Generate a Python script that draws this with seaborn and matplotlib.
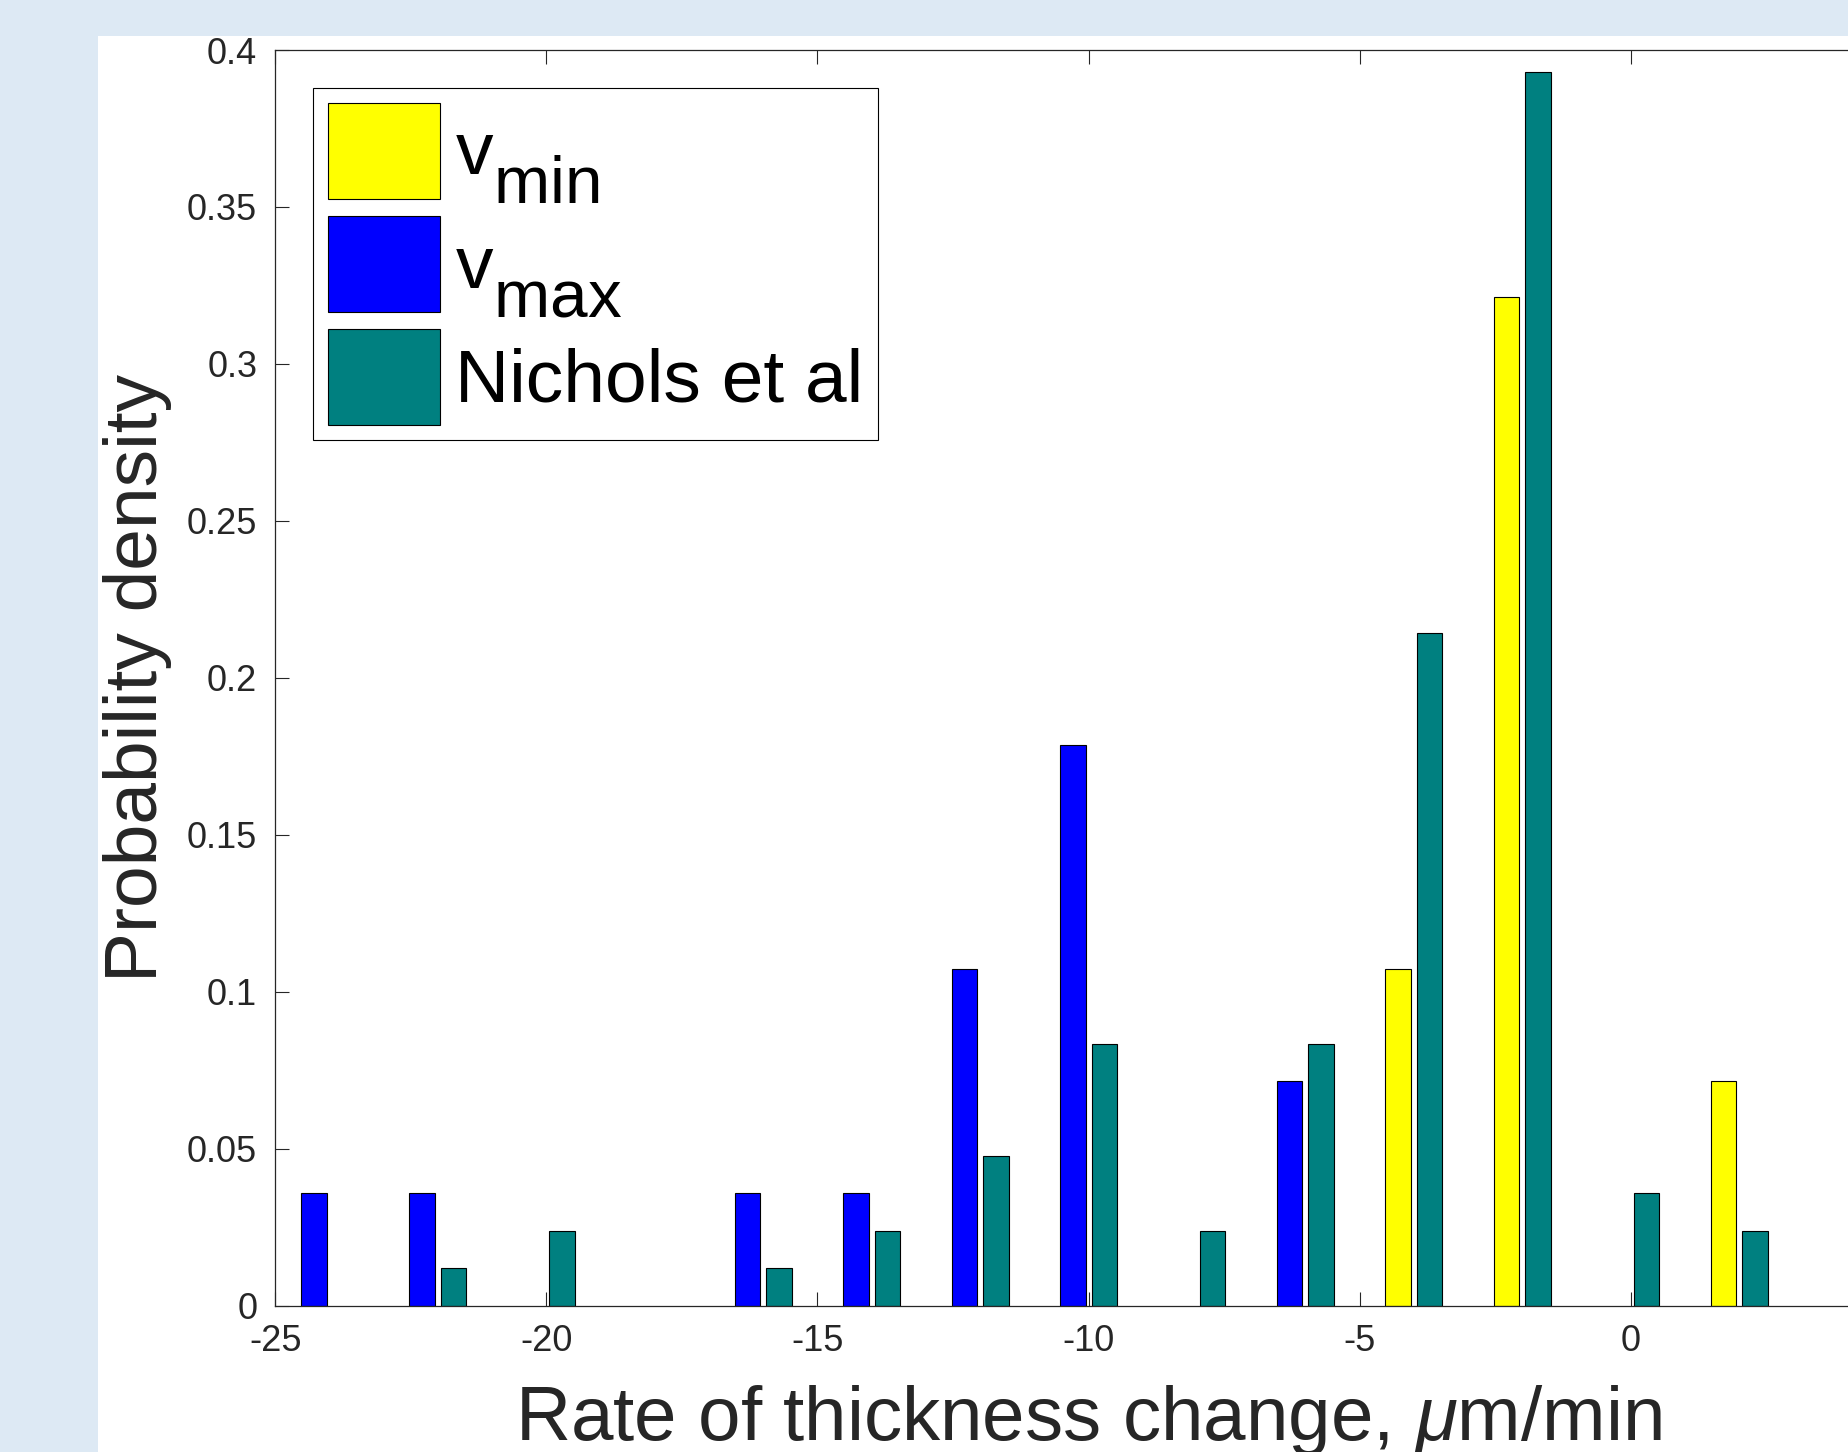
import numpy as np
import matplotlib
matplotlib.use("Agg")
import matplotlib.pyplot as plt
import seaborn as sns
from matplotlib.patches import Rectangle

# ---------------- data ----------------
vmin_centers = [-4, -2, 2]
vmin_density = [0.1071, 0.3214, 0.0714]

vmax_centers = [-24, -22, -16, -14, -12, -10, -6]
vmax_density = [0.0357, 0.0357, 0.0357, 0.0357, 0.1071, 0.1786, 0.0714]

nichols_centers = [-22, -20, -16, -14, -12, -10, -8, -6, -4, -2, 0, 2]
nichols_density = [0.0119, 0.0238, 0.0119, 0.0238, 0.0476, 0.0833,
                   0.0238, 0.0833, 0.2143, 0.3929, 0.0357, 0.0238]

series_labels = [r"$\mathregular{v_{min}}$", r"$\mathregular{v_{max}}$", "Nichols et al"]
series_colors = ["#ffff00", "#0000ff", "#008080"]

x_ticks = [-25, -20, -15, -10, -5, 0, 5]
x_tick_labels = ["-25", "-20", "-15", "-10", "-5", "0", ""]  # 5 lies off the canvas
y_ticks = [0, 0.05, 0.1, 0.15, 0.2, 0.25, 0.3, 0.35, 0.4]
y_tick_labels = ["0", "0.05", "0.1", "0.15", "0.2", "0.25", "0.3", "0.35", "0.4"]

x_label = r"Rate of thickness change, $\mu$m/min"
y_label = "Probability density"

# ---------------- style ----------------
sns.set_style("white")
plt.rcParams["font.family"] = ["Liberation Sans", "DejaVu Sans"]
plt.rcParams["mathtext.fontset"] = "custom"
plt.rcParams["mathtext.rm"] = "Liberation Sans"
plt.rcParams["mathtext.it"] = "Liberation Sans:italic"
plt.rcParams["mathtext.bf"] = "Liberation Sans:bold"
plt.rcParams["axes.unicode_minus"] = False
# MATLAB-like subscripts: nearly full size and lowered
try:
    import matplotlib._mathtext as _mt
    _mt.SHRINK_FACTOR = 0.9
    _mt.FontConstantsBase.sub1 = 0.75
except Exception:
    pass

W, H = 1849, 1452
DPI = 100
BG = "#dde9f4"
DARK = "#262626"

fig = plt.figure(figsize=(W / DPI, H / DPI), dpi=DPI, facecolor=BG)
fig.add_artist(Rectangle((98 / W, 0), 1 - 98 / W, (H - 36) / H,
                         transform=fig.transFigure, facecolor="white",
                         edgecolor="none", zorder=0))

ax_left, ax_right, ax_top, ax_bottom = 275.3, 1901.8, 50.0, 1305.5
ax = fig.add_axes([ax_left / W, (H - ax_bottom) / H,
                   (ax_right - ax_left) / W, (ax_bottom - ax_top) / H])
ax.set_facecolor("white")

slot_offset = 0.29
bar_rel_width = 0.235  # relative to the 2-unit bin spacing
groups = [
    (vmin_centers, vmin_density, series_colors[0], -slot_offset),
    (vmax_centers, vmax_density, series_colors[1], -slot_offset),
    (nichols_centers, nichols_density, series_colors[2], slot_offset),
]
for centers, dens, color, off in groups:
    sns.barplot(x=np.asarray(centers, dtype=float) + off, y=dens,
                native_scale=True, orient="x", width=bar_rel_width,
                color=color, saturation=1, errorbar=None,
                edgecolor="black", linewidth=0.8, ax=ax, zorder=3)

ax.set_xlim(-25, 5)
ax.set_ylim(0, 0.4)
ax.set_xticks(x_ticks)
ax.set_xticklabels(x_tick_labels)
ax.set_yticks(y_ticks)
ax.set_yticklabels(y_tick_labels)

ax.tick_params(axis="both", which="major", direction="in", length=10.4,
               width=0.8, color=DARK, labelsize=26, labelcolor=DARK, pad=13,
               top=True, right=True, bottom=True, left=True)
for sp in ax.spines.values():
    sp.set_visible(True)
    sp.set_color(DARK)
    sp.set_linewidth(0.9)
    sp.set_zorder(5)

ax.set_xlabel(x_label, fontsize=55, color=DARK)
ax.set_ylabel(y_label, fontsize=54, color=DARK)
ax.xaxis.label.set_va("baseline")
ax.xaxis.set_label_coords(0.5, -(1440 - ax_bottom) / (ax_bottom - ax_top))
ax.yaxis.label.set_va("baseline")
ax.yaxis.set_label_coords(-(ax_left - 156.7) / (ax_right - ax_left), 0.5)

handles = list(ax.containers)
leg = ax.legend(handles, series_labels, loc="upper left", fontsize=54,
                frameon=True, fancybox=False, framealpha=1, edgecolor="black",
                facecolor="white", handlelength=1.49, handleheight=1.6,
                handletextpad=0.2, borderpad=0.2, labelspacing=0.12,
                borderaxespad=0.5)
leg.get_frame().set_linewidth(0.8)
for t in leg.get_texts():
    t.set_color("black")
leg.set_zorder(10)

fig.savefig("out.png", dpi=DPI, facecolor=BG)
